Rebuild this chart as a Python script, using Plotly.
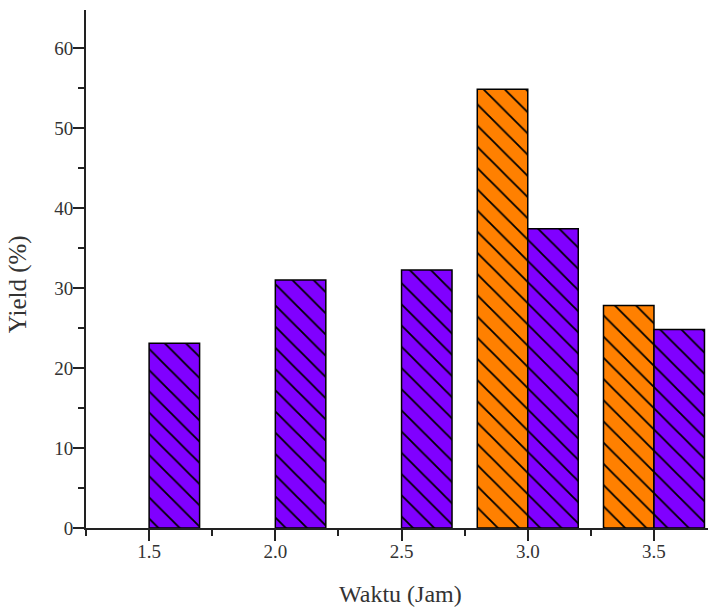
import plotly.graph_objects as go

# Data
waktu_purple = [1.5, 2.0, 2.5, 3.0, 3.5]
yield_purple = [23.1, 31.0, 32.25, 37.4, 24.8]
waktu_orange = [3.0, 3.5]
yield_orange = [54.85, 27.8]
x_ticks = [1.5, 2.0, 2.5, 3.0, 3.5]
x_ticklabels = ["1.5", "2.0", "2.5", "3.0", "3.5"]
y_ticks = [0, 10, 20, 30, 40, 50, 60]

PURPLE = "#8000FF"
ORANGE = "#FF8000"
FONT = "Liberation Serif"

fig = go.Figure()

fig.add_trace(go.Bar(
    x=waktu_orange, y=yield_orange, width=0.2, offset=-0.2,
    marker=dict(color=ORANGE, line=dict(color="black", width=1.5),
                pattern=dict(shape="\\", fgcolor="black", bgcolor=ORANGE,
                             size=15, solidity=0.12, fillmode="replace")),
    showlegend=False,
))
fig.add_trace(go.Bar(
    x=waktu_purple, y=yield_purple, width=0.2, offset=0,
    marker=dict(color=PURPLE, line=dict(color="black", width=1.5),
                pattern=dict(shape="\\", fgcolor="black", bgcolor=PURPLE,
                             size=15, solidity=0.12, fillmode="replace")),
    showlegend=False,
))

fig.update_layout(
    width=711, height=607,
    margin=dict(l=86, r=3, t=10, b=79),
    paper_bgcolor="white", plot_bgcolor="white",
    font=dict(family=FONT, size=19, color="#333333"),
    barmode="overlay",
    xaxis=dict(
        range=[1.25, 3.714], tickvals=x_ticks, ticktext=x_ticklabels,
        showgrid=False, zeroline=False, showline=True, linecolor="#222222", linewidth=2,
        ticks="outside", ticklen=11, tickwidth=2, tickcolor="#222222",
        tickfont=dict(family=FONT, size=19, color="#333333"),
        ticklabelstandoff=-6,
        minor=dict(dtick=0.25, tick0=1.25, ticks="outside", ticklen=6, tickwidth=2, tickcolor="#222222"),
    ),
    yaxis=dict(
        range=[0, 64.75], tickvals=y_ticks,
        showgrid=False, zeroline=False, showline=True, linecolor="#222222", linewidth=2,
        ticks="outside", ticklen=11, tickwidth=2, tickcolor="#222222",
        tickfont=dict(family=FONT, size=19, color="#333333"),
        ticklabelstandoff=-4,
        minor=dict(dtick=5, tick0=0, ticks="outside", ticklen=6, tickwidth=2, tickcolor="#222222"),
    ),
    annotations=[
        dict(text="Waktu (Jam)", xref="paper", yref="paper", x=0.506, y=-0.128,
             xanchor="center", yanchor="middle", showarrow=False,
             font=dict(family=FONT, size=24, color="#333333")),
        dict(text="Yield (%)", xref="paper", yref="paper", x=-0.109, y=0.471,
             xanchor="center", yanchor="middle", textangle=-90, showarrow=False,
             font=dict(family=FONT, size=25, color="#333333")),
    ],
)

fig.write_html("out.html")
